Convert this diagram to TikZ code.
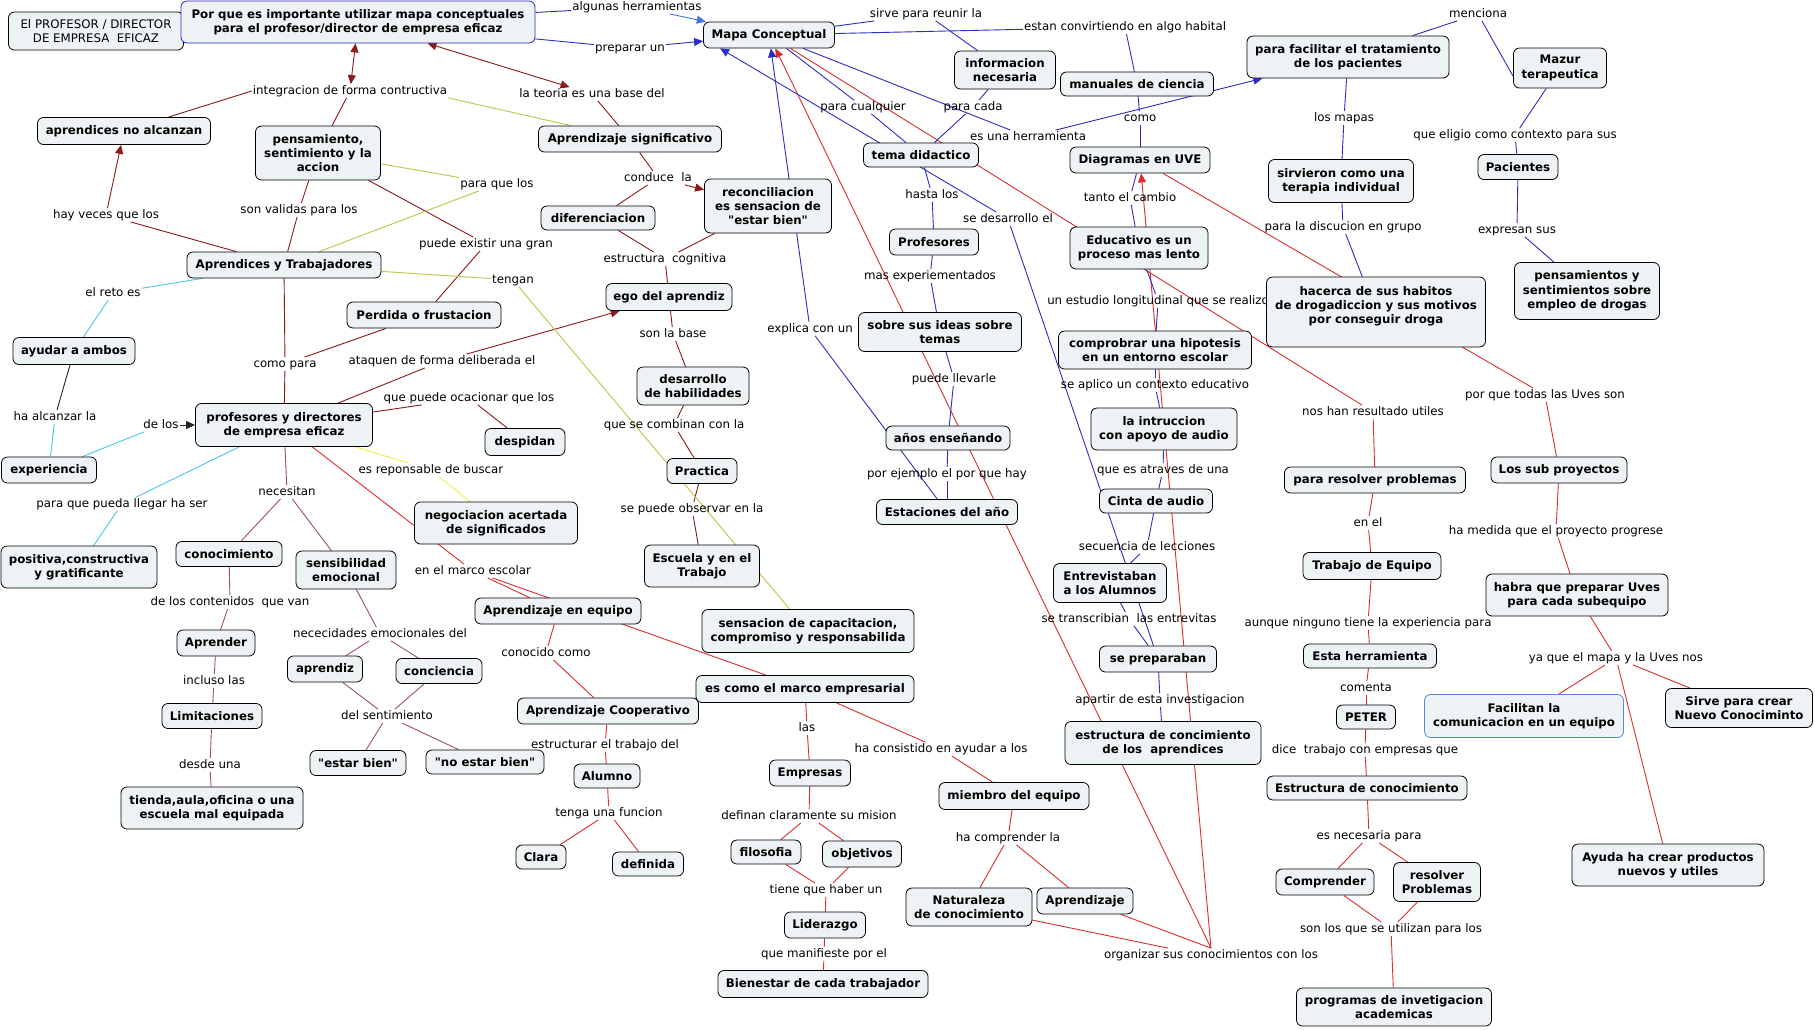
\documentclass[tikz,border=0pt]{standalone}
\usepackage{fontspec}
\setmainfont{DejaVu Sans}[Ligatures=TeXOff]
\usetikzlibrary{arrows.meta}
\pgfdeclarelayer{bg}
\pgfsetlayers{bg,main}
\definecolor{boxfill}{RGB}{237,243,245}
\definecolor{cdr}{RGB}{140,25,25}
\definecolor{cyg}{RGB}{185,200,70}
\definecolor{cbl}{RGB}{45,45,200}
\definecolor{clb}{RGB}{70,115,235}
\definecolor{crd}{RGB}{220,45,45}
\definecolor{ccy}{RGB}{70,200,230}
\definecolor{cmv}{RGB}{160,75,120}
\definecolor{cye}{RGB}{240,240,70}
\definecolor{cpb}{RGB}{40,40,190}
\definecolor{cfb}{RGB}{90,135,220}
\newcommand\cpt[6]{\node[cbox,minimum width=#4pt,minimum height=#5pt] (#1) at (#2,#3) {#6};}
\newcommand\lab[4]{\node[lbl] (#1) at (#2,#3) {#4};}
\begin{document}
\begin{tikzpicture}[x=1pt,y=-1pt,
  cbox/.style={draw=black,line width=0.8pt,fill=boxfill,rounded corners=6pt,align=center,inner sep=2pt,font=\bfseries\fontsize{11.8}{14.3}\selectfont},
  lbl/.style={inner sep=1pt,font=\fontsize{11.8}{14.3}\selectfont,text height=8.8pt,text depth=2.6pt},
  ln/.style={line width=0.9pt},
  tip/.style={-{Triangle[length=9pt,width=8pt]}},
  tips/.style={{Triangle[length=9pt,width=8pt]}-{Triangle[length=9pt,width=8pt]}},
  dr/.style={ln,cdr}, yg/.style={ln,cyg}, bl/.style={ln,cbl}, lb/.style={ln,clb},
  rd/.style={ln,crd}, cy/.style={ln,ccy}, mv/.style={ln,cmv}, ye/.style={ln,cye}, bk/.style={ln,black!85}]
\useasboundingbox (0,0) rectangle (1815,1029);
% ---------- labels ----------
\lab{Lint}{350}{91}{integracion de forma contructiva}
\lab{Lteo}{592}{94}{la teoria es una base del}
\lab{Lalg}{637}{7}{algunas herramientas}
\lab{Lprep}{630}{48}{preparar un}
\lab{Lsirve}{926}{14}{sirve para reunir la}
\lab{Lestan}{1125}{27}{estan convirtiendo en algo habital}
\lab{Lmen}{1478}{14}{menciona}
\lab{Lhay}{106}{215}{hay veces que los}
\lab{Lson}{299}{210}{son validas para los}
\lab{Lparaq}{497}{184}{para que los}
\lab{Lcond}{658}{178}{conduce\ \ la}
\lab{Lpcual}{863}{107}{para cualquier}
\lab{Lpcada}{973}{107}{para cada}
\lab{Lherr}{1028}{137}{es una herramienta}
\lab{Lcomo}{1140}{118}{como}
\lab{Lmapas}{1344}{118}{los mapas}
\lab{Leleg}{1515}{135}{que eligio como contexto para sus}
\lab{Lhasta}{932}{195}{hasta los}
\lab{Ltanto}{1130}{198}{tanto el cambio}
\lab{Lsedes}{1008}{219}{se desarrollo el}
\lab{Ldiscu}{1343}{227}{para la discucion en grupo}
\lab{Lexpr}{1517}{230}{expresan sus}
\lab{Lpuede}{486}{244}{puede existir una gran}
\lab{Lestr}{665}{259}{estructura\ \ cognitiva}
\lab{Ltengan}{513}{280}{tengan}
\lab{Lmasex}{930}{276}{mas experiementados}
\lab{Lreto}{113}{293}{el reto es}
\lab{Lestud}{1158}{301}{un estudio longitudinal que se realizo}
\lab{Lexplica}{810}{329}{explica con un}
\lab{Lsonb}{673}{334}{son la base}
\lab{Lcompara}{285}{364}{como para}
\lab{Lataq}{442}{361}{ataquen de forma deliberada el}
\lab{Lpuedell}{954}{379}{puede llevarle}
\lab{Laplico}{1155}{385}{se aplico un contexto educativo}
\lab{Lporque}{1545}{395}{por que todas las Uves son}
\lab{Locac}{469}{398}{que puede ocacionar que los}
\lab{Lnos}{1373}{412}{nos han resultado utiles}
\lab{Lalc}{55}{417}{ha alcanzar la}
\lab{Ldelos}{161}{425}{de los}
\lab{Lcombin}{674}{425}{que se combinan con la}
\lab{Lresp}{431}{470}{es reponsable de buscar}
\lab{Latrav}{1163}{470}{que es atraves de una}
\lab{Lejem}{947}{474}{por ejemplo el por que hay}
\lab{Lneces}{287}{492}{necesitan}
\lab{Lpueda}{122}{504}{para que pueda llegar ha ser}
\lab{Lobserv}{692}{509}{se puede observar en la}
\lab{Lenel}{1368}{523}{en el}
\lab{Lmedida}{1556}{531}{ha medida que el proyecto progrese}
\lab{Lsecu}{1147}{547}{secuencia de lecciones}
\lab{Lmarco}{473}{571}{en el marco escolar}
\lab{Lconten}{230}{602}{de los contenidos\ \ que van}
\lab{Ltransc}{1129}{619}{se transcribian\ \ las entrevitas}
\lab{Launque}{1368}{623}{aunque ninguno tiene la experiencia para}
\lab{Lnecem}{380}{634}{nececidades emocionales del}
\lab{Lconoc}{546}{653}{conocido como}
\lab{Lyaque}{1616}{658}{ya que el mapa y la Uves nos}
\lab{Lincl}{214}{681}{incluso las}
\lab{Lcoment}{1366}{688}{comenta}
\lab{Lapartir}{1160}{700}{apartir de esta investigacion}
\lab{Ldelsen}{387}{716}{del sentimiento}
\lab{Llas}{807}{728}{las}
\lab{Lestrt}{605}{745}{estructurar el trabajo del}
\lab{Lconsist}{941}{749}{ha consistido en ayudar a los}
\lab{Ldice}{1365}{750}{dice\ \ trabajo con empresas que}
\lab{Ldesde}{210}{765}{desde una}
\lab{Ltenga}{609}{813}{tenga una funcion}
\lab{Ldefin}{809}{816}{definan claramente su mision}
\lab{Lesnec}{1369}{836}{es necesaria para}
\lab{Lcompr}{1008}{838}{ha comprender la}
\lab{Ltiene}{826}{890}{tiene que haber un}
\lab{Lsonlos}{1391}{929}{son los que se utilizan para los}
\lab{Lmanif}{824}{954}{que manifieste por el}
\lab{Lorgan}{1211}{955}{organizar sus conocimientos con los}
% ---------- concepts ----------
\node[cbox,font=\fontsize{11.8}{14.3}\selectfont,minimum width=175pt,minimum height=38pt] (prof) at (96,31) {El PROFESOR / DIRECTOR\\DE EMPRESA\ \ EFICAZ};
\node[cbox,draw=cpb,minimum width=354pt,minimum height=42pt] (porque) at (358,22) {Por que es importante utilizar mapa conceptuales\\para el profesor/director de empresa eficaz};
\cpt{mapa}{769}{35}{131}{26}{Mapa Conceptual}
\cpt{apna}{124}{131}{173}{27}{aprendices no alcanzan}
\cpt{pens}{318}{153}{125}{54}{pensamiento,\\sentimiento y la\\accion}
\cpt{apsig}{630}{139}{183}{26}{Aprendizaje significativo}
\cpt{difer}{598}{218}{114}{24}{diferenciacion}
\cpt{recon}{768}{206}{127}{54}{reconciliacion\\es sensacion de\\"estar bien"}
\cpt{aprtr}{284}{265}{194}{26}{Aprendices y Trabajadores}
\cpt{perd}{424}{315}{154}{26}{Perdida o frustacion}
\cpt{ego}{669}{297}{126}{27}{ego del aprendiz}
\cpt{ayud}{74}{351}{122}{27}{ayudar a ambos}
\cpt{profd}{284}{425}{177}{43}{profesores y directores\\de empresa eficaz}
\cpt{exper}{49}{470}{95}{26}{experiencia}
\cpt{desar}{693}{386}{112}{38}{desarrollo\\de habilidades}
\cpt{despi}{525}{442}{80}{27}{despidan}
\cpt{negoc}{496}{523}{163}{42}{negociacion acertada\\de significados}
\cpt{pract}{702}{471}{70}{25}{Practica}
\cpt{escu}{702}{566}{115}{42}{Escuela y en el\\Trabajo}
\cpt{conoc}{229}{554}{106}{25}{conocimiento}
\cpt{sensi}{346}{570}{100}{38}{sensibilidad\\emocional}
\cpt{posit}{79}{567}{156}{42}{positiva,constructiva\\y gratificante}
\cpt{aprender}{216}{643}{78}{26}{Aprender}
\cpt{aprdz}{325}{669}{75}{26}{aprendiz}
\cpt{conci}{439}{671}{86}{25}{conciencia}
\cpt{limit}{212}{716}{100}{25}{Limitaciones}
\cpt{tienda}{212}{808}{182}{42}{tienda,aula,oficina o una\\escuela mal equipada}
\cpt{estarb}{358}{763}{96}{25}{"estar bien"}
\cpt{noestar}{485}{762}{118}{24}{"no estar bien"}
\cpt{apeq}{558}{611}{166}{26}{Aprendizaje en equipo}
\cpt{sensac}{808}{631}{212}{43}{sensacion de capacitacion,\\compromiso y responsabilida}
\cpt{apcoop}{608}{711}{181}{26}{Aprendizaje Cooperativo}
\cpt{mcemp}{805}{689}{218}{27}{es como el marco empresarial}
\cpt{alumno}{607}{776}{66}{24}{Alumno}
\cpt{empresas}{810}{773}{81}{26}{Empresas}
\cpt{clara}{541}{857}{50}{24}{Clara}
\cpt{defin}{648}{864}{71}{24}{definida}
\cpt{filos}{766}{852}{70}{24}{filosofia}
\cpt{objet}{862}{854}{79}{26}{objetivos}
\cpt{lider}{825}{925}{81}{26}{Liderazgo}
\cpt{bienes}{823}{984}{210}{27}{Bienestar de cada trabajador}
\cpt{miembro}{1014}{796}{150}{27}{miembro del equipo}
\cpt{natur}{969}{907}{126}{38}{Naturaleza\\de conocimiento}
\cpt{aprz}{1085}{901}{96}{26}{Aprendizaje}
\cpt{estruc}{1163}{743}{196}{43}{estructura de concimiento\\de los\ \ aprendices}
\cpt{tema}{921}{155}{115}{24}{tema didactico}
\cpt{profes}{934}{242}{89}{26}{Profesores}
\cpt{sobre}{940}{332}{163}{39}{sobre sus ideas sobre\\temas}
\cpt{anos}{948}{438}{124}{24}{años enseñando}
\cpt{estac}{947}{512}{141}{25}{Estaciones del año}
\cpt{info}{1005}{70}{101}{38}{informacion\\necesaria}
\cpt{manu}{1137}{84}{153}{24}{manuales de ciencia}
\cpt{diag}{1140}{160}{140}{26}{Diagramas en UVE}
\cpt{educ}{1139}{248}{138}{42}{Educativo es un\\proceso mas lento}
\cpt{compr}{1155}{350}{193}{38}{comprobrar una hipotesis\\en un entorno escolar}
\cpt{intru}{1164}{429}{146}{42}{la intruccion\\con apoyo de audio}
\cpt{cinta}{1156}{501}{113}{24}{Cinta de audio}
\cpt{entrev}{1110}{583}{113}{39}{Entrevistaban\\a los Alumnos}
\cpt{seprep}{1158}{659}{117}{26}{se preparaban}
\cpt{facil}{1348}{57}{202}{42}{para facilitar el tratamiento\\de los pacientes}
\cpt{sirv}{1341}{181}{145}{43}{sirvieron como una\\terapia individual}
\cpt{hacer}{1376}{312}{219}{70}{hacerca de sus habitos\\de drogadiccion y sus motivos\\por conseguir droga\\\mbox{}}
\cpt{mazur}{1560}{68}{93}{40}{Mazur\\terapeutica}
\cpt{pacie}{1518}{167}{80}{25}{Pacientes}
\cpt{pensd}{1587}{291}{145}{57}{pensamientos y\\sentimientos sobre\\empleo de drogas}
\cpt{resolv}{1375}{480}{181}{26}{para resolver problemas}
\cpt{trabeq}{1372}{566}{138}{27}{Trabajo de Equipo}
\cpt{estah}{1370}{656}{133}{24}{Esta herramienta}
\cpt{peter}{1366}{717}{59}{24}{PETER}
\cpt{estcon}{1367}{788}{200}{24}{Estructura de conocimiento}
\cpt{compre}{1325}{882}{98}{26}{Comprender}
\cpt{resolP}{1437}{882}{87}{39}{resolver\\Problemas}
\cpt{progr}{1394}{1007}{195}{38}{programas de invetigacion\\academicas}
\cpt{subp}{1559}{470}{136}{26}{Los sub proyectos}
\cpt{habra}{1577}{595}{182}{42}{habra que preparar Uves\\para cada subequipo}
\node[cbox,draw=cfb,minimum width=199pt,minimum height=43pt] (facilc) at (1524,716) {Facilitan la\\comunicacion en un equipo};
\cpt{sirve}{1739}{708}{147}{39}{Sirve para crear\\Nuevo Conociminto}
\cpt{ayuda}{1668}{865}{192}{42}{Ayuda ha crear productos\\nuevos y utiles}
% ---------- connectors ----------
\begin{pgfonlayer}{bg}
\fill[white] (0,0) rectangle (1815,1029);
% dark red
\draw[dr,tips] (porque) -- (Lint);
\draw[dr,tips] (porque) -- (Lteo);
\draw[dr] (Lint.west) -- (apna);
\draw[dr] (Lint) -- (pens);
\draw[dr] (Lteo) -- (apsig);
\draw[dr] (apsig) -- (Lcond);
\draw[dr] (Lcond) -- (difer);
\draw[dr,tip] (Lcond) -- (recon);
\draw[dr] (difer) -- (Lestr);
\draw[dr] (recon) -- (Lestr);
\draw[dr] (Lestr) -- (ego);
\draw[dr] (ego) -- (Lsonb);
\draw[dr] (Lsonb) -- (desar);
\draw[dr] (desar) -- (Lcombin);
\draw[dr] (Lcombin) -- (pract);
\draw[dr] (pract) -- (Lobserv);
\draw[dr] (Lobserv) -- (escu);
\draw[dr] (aprtr) -- (Lhay);
\draw[dr,tip] (Lhay) -- (apna);
\draw[dr] (aprtr) -- (Lson);
\draw[dr] (Lson) -- (pens);
\draw[dr] (pens) -- (Lpuede);
\draw[dr] (Lpuede) -- (perd);
\draw[dr] (aprtr) -- (Lcompara);
\draw[dr] (Lcompara) -- (profd);
\draw[dr] (perd) -- (Lcompara);
\draw[dr] (profd) -- (Lataq);
\draw[dr,tip] (Lataq) -- (ego);
\draw[dr] (profd) -- (Locac);
\draw[dr] (Locac) -- (despi);
% yellow-green
\draw[yg] (Lint.south east) -- (apsig);
\draw[yg] (aprtr) -- (Lparaq);
\draw[yg] (pens) -- (Lparaq);
\draw[yg] (aprtr) -- (Ltengan);
\draw[yg] (Ltengan) -- (sensac);
% yellow
\draw[ye] (profd) -- (Lresp);
\draw[ye] (Lresp) -- (negoc);
% cyan and black
\draw[cy] (aprtr) -- (Lreto);
\draw[cy] (Lreto) -- (ayud);
\draw[bk] (ayud) -- (Lalc);
\draw[cy] (Lalc) -- (exper);
\draw[cy] (exper) -- (Ldelos);
\draw[bk,tip] (Ldelos) -- (profd);
\draw[cy] (profd) -- (Lpueda);
\draw[cy] (Lpueda) -- (posit);
% mauve
\draw[mv] (profd) -- (Lneces);
\draw[mv] (Lneces) -- (conoc);
\draw[mv] (Lneces) -- (sensi);
\draw[mv] (conoc) -- (Lconten);
\draw[mv] (Lconten) -- (aprender);
\draw[mv] (sensi) -- (Lnecem);
\draw[mv] (Lnecem) -- (aprdz);
\draw[mv] (Lnecem) -- (conci);
\draw[mv] (aprender) -- (Lincl);
\draw[mv] (Lincl) -- (limit);
\draw[mv] (limit) -- (Ldesde);
\draw[mv] (Ldesde) -- (tienda);
\draw[mv] (aprdz) -- (Ldelsen);
\draw[mv] (conci) -- (Ldelsen);
\draw[mv] (Ldelsen) -- (estarb);
\draw[mv] (Ldelsen) -- (noestar);
% red
\draw[rd] (profd) -- (Lmarco);
\draw[rd] (Lmarco) -- (apeq);
\draw[rd] (Lmarco) -- (mcemp);
\draw[rd] (apeq) -- (Lconoc);
\draw[rd] (Lconoc) -- (apcoop);
\draw[rd] (apcoop) -- (Lestrt);
\draw[rd] (Lestrt) -- (alumno);
\draw[rd] (alumno) -- (Ltenga);
\draw[rd] (Ltenga) -- (clara);
\draw[rd] (Ltenga) -- (defin);
\draw[rd] (mcemp) -- (Llas);
\draw[rd] (Llas) -- (empresas);
\draw[rd] (mcemp) -- (Lconsist);
\draw[rd] (Lconsist) -- (miembro);
\draw[rd] (empresas) -- (Ldefin);
\draw[rd] (Ldefin) -- (filos);
\draw[rd] (Ldefin) -- (objet);
\draw[rd] (filos) -- (Ltiene);
\draw[rd] (objet) -- (Ltiene);
\draw[rd] (Ltiene) -- (lider);
\draw[rd] (lider) -- (Lmanif);
\draw[rd] (Lmanif) -- (bienes);
\draw[rd] (miembro) -- (Lcompr);
\draw[rd] (Lcompr) -- (natur);
\draw[rd] (Lcompr) -- (aprz);
\draw[rd] (natur) -- ([xshift=-43pt]Lorgan.north);
\draw[rd] (aprz) -- (Lorgan.north);
\draw[rd,tip] (Lorgan.north) -- (mapa);
\draw[rd,tip] (Lorgan.north) -- (diag);
\draw[rd] (mapa) -- (Lnos);
\draw[rd] (Lnos) -- (resolv);
\draw[rd] (resolv) -- (Lenel);
\draw[rd] (Lenel) -- (trabeq);
\draw[rd] (trabeq) -- (Launque);
\draw[rd] (Launque) -- (estah);
\draw[rd] (estah) -- (Lcoment);
\draw[rd] (Lcoment) -- (peter);
\draw[rd] (peter) -- (Ldice);
\draw[rd] (Ldice) -- (estcon);
\draw[rd] (estcon) -- (Lesnec);
\draw[rd] (Lesnec) -- (compre);
\draw[rd] (Lesnec) -- (resolP);
\draw[rd] (compre) -- (Lsonlos);
\draw[rd] (resolP) -- (Lsonlos);
\draw[rd] (Lsonlos) -- (progr);
\draw[rd] (diag) -- (Lporque);
\draw[rd] (Lporque) -- (subp);
\draw[rd] (subp) -- (Lmedida);
\draw[rd] (Lmedida) -- (habra);
\draw[rd] (habra) -- (Lyaque);
\draw[rd] (Lyaque) -- (facilc);
\draw[rd] (Lyaque) -- (sirve);
\draw[rd] (Lyaque) -- (ayuda);
% blue
\draw[bl] (porque) -- (Lalg);
\draw[lb,tip] (Lalg) -- (mapa);
\draw[bl] (porque) -- (Lprep);
\draw[bl,tip] (Lprep) -- (mapa);
\draw[bl] (mapa) -- (Lsirve);
\draw[bl] (Lsirve) -- (info);
\draw[bl] (mapa) -- (Lestan);
\draw[bl] (Lestan) -- (manu);
\draw[bl] (mapa) -- (Lherr);
\draw[bl,tip] (Lherr) -- (facil);
\draw[bl] (tema) -- (Lpcual);
\draw[bl] (Lpcual) -- (mapa);
\draw[bl] (info) -- (Lpcada);
\draw[bl] (Lpcada) -- (tema);
\draw[bl] (manu) -- (Lcomo);
\draw[bl] (Lcomo) -- (diag);
\draw[bl] (facil) -- (Lmapas);
\draw[bl] (Lmapas) -- (sirv);
\draw[bl] (facil) -- (Lmen);
\draw[bl] (Lmen) -- (mazur.190);
\draw[bl] (mazur) -- (Leleg);
\draw[bl] (Leleg) -- (pacie);
\draw[bl] (pacie) -- (Lexpr);
\draw[bl] (Lexpr) -- (pensd);
\draw[bl] (sirv) -- (Ldiscu);
\draw[bl] (Ldiscu) -- (hacer);
\draw[bl] (tema) -- (Lhasta);
\draw[bl] (Lhasta) -- (profes);
\draw[bl,tip] (Lsedes) -- ([xshift=17pt]mapa.south west);
\draw[bl] (Lsedes) -- (seprep);
\draw[bl] (profes) -- (Lmasex);
\draw[bl] (Lmasex) -- (sobre);
\draw[bl] (sobre) -- (Lpuedell);
\draw[bl] (Lpuedell) -- (anos);
\draw[bl] (anos) -- (Lejem);
\draw[bl] (Lejem) -- (estac);
\draw[bl,tip] (Lexplica) -- (mapa);
\draw[bl] (Lexplica) -- (estac);
\draw[bl] (diag) -- (Ltanto);
\draw[bl] (Ltanto) -- (educ);
\draw[bl] (educ) -- (Lestud);
\draw[bl] (Lestud) -- (compr);
\draw[bl] (compr) -- (Laplico);
\draw[bl] (Laplico) -- (intru);
\draw[bl] (intru) -- (Latrav);
\draw[bl] (Latrav) -- (cinta);
\draw[bl] (cinta) -- (Lsecu);
\draw[bl] (Lsecu) -- (entrev);
\draw[bl] (entrev) -- (Ltransc);
\draw[bl] (Ltransc) -- (seprep);
\draw[bl] (seprep) -- (Lapartir);
\draw[bl] (Lapartir) -- (estruc);
\end{pgfonlayer}
\end{tikzpicture}
\end{document}
